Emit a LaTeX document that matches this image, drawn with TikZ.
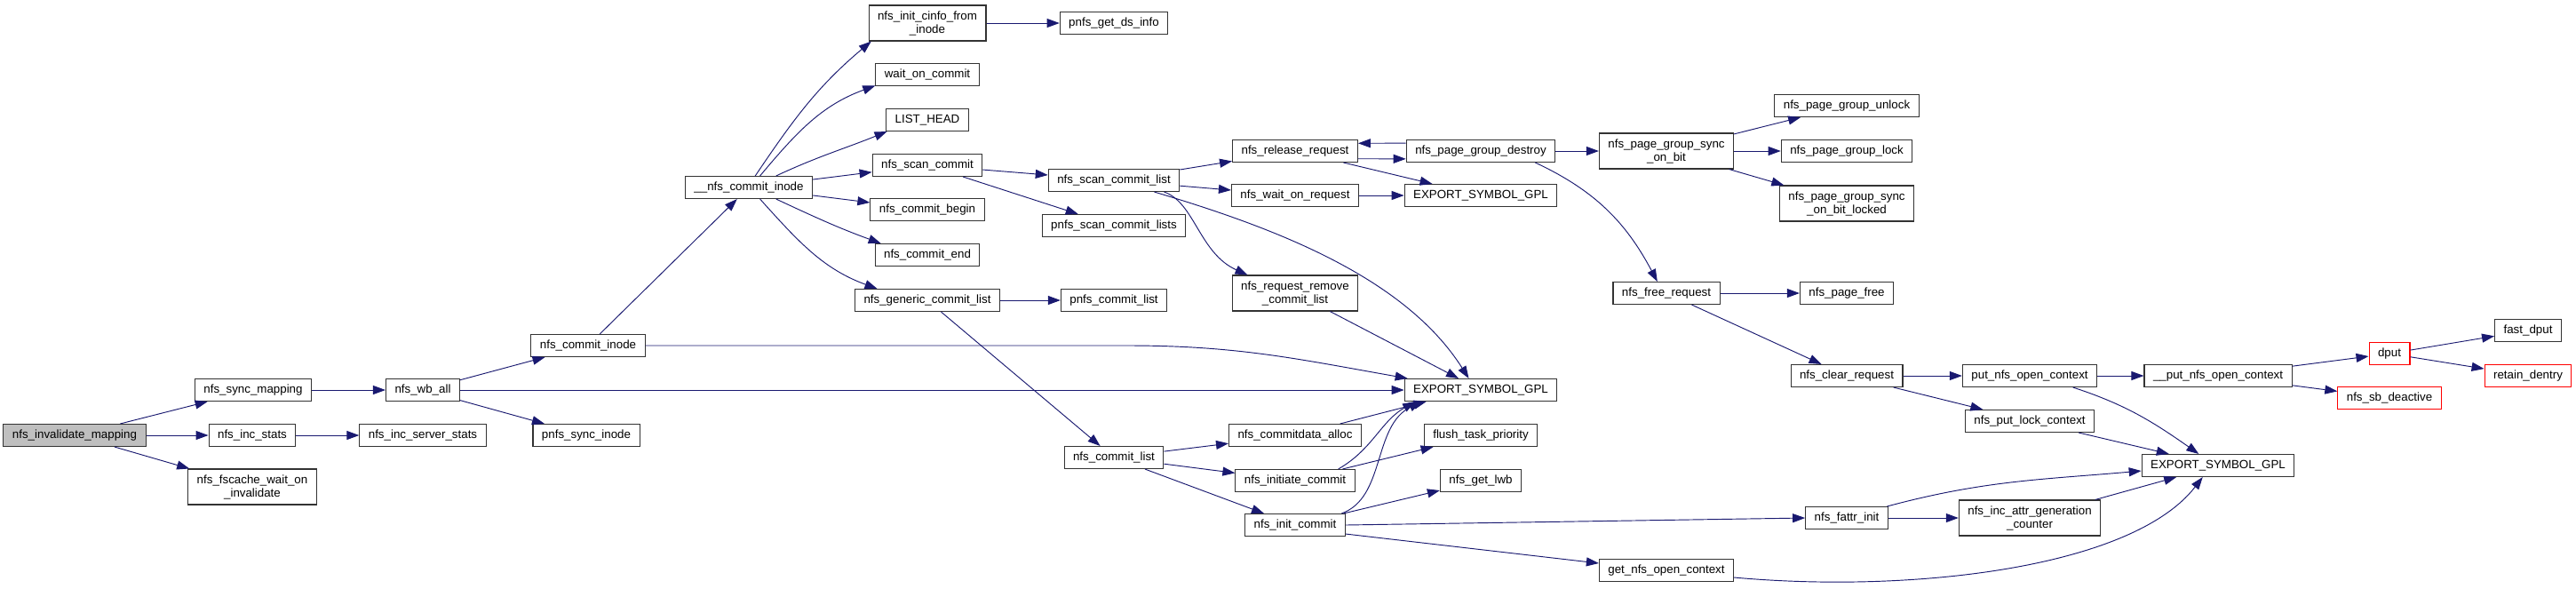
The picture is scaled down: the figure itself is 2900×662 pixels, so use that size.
\documentclass[tikz,border=0pt]{standalone}
\usepackage{fontspec}
\setmainfont{Liberation Sans}
\usepackage{tikz}
\usetikzlibrary{arrows.meta, positioning}

\definecolor{edgeblue}{HTML}{191970}
\tikzset{
  fn/.style={draw=black!80, fill=white, line width=0.8pt, font=\fontsize{10}{11.25}\selectfont,
             inner xsep=7.5pt, inner ysep=2pt, minimum height=18.75pt, align=center},
  fntwo/.style={fn, minimum height=30pt},
  fnroot/.style={fn, fill=black!25},
  fnmiss/.style={fn, draw=red},
  call/.style={edgeblue, line width=0.7pt, -{Triangle[length=10.5pt, width=7.5pt]}},
}

\begin{document}
\begin{tikzpicture}[x=0.75pt, y=-0.75pt]
        % Marco (pixeles de la imagen original, y hacia abajo)
        \useasboundingbox[fill=white] (0,0) rectangle (2900,662);

        % Columna 1-3
        \node[fnroot] (invmap) at (84,490) {nfs\_invalidate\_mapping};
        \node[fn] (syncmap) at (285,439) {nfs\_sync\_mapping};
        \node[fn] (incstats) at (284,490) {nfs\_inc\_stats};
        \node[fntwo] (fscache) at (284,548) {nfs\_fscache\_wait\_on\\\_invalidate};
        \node[fn] (wball) at (476,439) {nfs\_wb\_all};
        \node[fn] (incsrv) at (476,490) {nfs\_inc\_server\_stats};

        % Columna 4-5
        \node[fn] (commitinode) at (662,389) {nfs\_commit\_inode};
        \node[fn] (pnfssync) at (660,490) {pnfs\_sync\_inode};
        \node[fn] (nci) at (843,211) {\_\_nfs\_commit\_inode};

        % Columna 6
        \node[fntwo] (initcinfo) at (1044,26) {nfs\_init\_cinfo\_from\\\_inode};
        \node[fn] (waitcommit) at (1044,84) {wait\_on\_commit};
        \node[fn] (listhead) at (1044,135) {LIST\_HEAD};
        \node[fn] (scancommit) at (1044,186) {nfs\_scan\_commit};
        \node[fn] (commitbegin) at (1044,236) {nfs\_commit\_begin};
        \node[fn] (commitend) at (1044,287) {nfs\_commit\_end};
        \node[fn] (gencommit) at (1044,338) {nfs\_generic\_commit\_list};

        % Columna 7
        \node[fn] (getds) at (1254,26) {pnfs\_get\_ds\_info};
        \node[fn] (scanlist) at (1254,203) {nfs\_scan\_commit\_list};
        \node[fn] (scanlists) at (1254,254) {pnfs\_scan\_commit\_lists};
        \node[fn] (pnfscommit) at (1254,338) {pnfs\_commit\_list};
        \node[fn] (commitlist) at (1254,515) {nfs\_commit\_list};

        % Columna 8
        \node[fn] (release) at (1458,170) {nfs\_release\_request};
        \node[fn] (waitreq) at (1458,220) {nfs\_wait\_on\_request};
        \node[fntwo] (removecl) at (1458,330) {nfs\_request\_remove\\\_commit\_list};
        \node[fn] (cdalloc) at (1458,490) {nfs\_commitdata\_alloc};
        \node[fn] (initiate) at (1458,541) {nfs\_initiate\_commit};
        \node[fn] (initcommit) at (1458,591) {nfs\_init\_commit};

        % Columna 9
        \node[fn] (pgdestroy) at (1667,170) {nfs\_page\_group\_destroy};
        \node[fn] (esgA) at (1667,220) {EXPORT\_SYMBOL\_GPL};
        \node[fn] (esgB) at (1667,439) {EXPORT\_SYMBOL\_GPL};
        \node[fn] (flush) at (1667,490) {flush\_task\_priority};
        \node[fn] (getlwb) at (1667,541) {nfs\_get\_lwb};

        % Columna 10-11
        \node[fntwo] (pgsync) at (1876,170) {nfs\_page\_group\_sync\\\_on\_bit};
        \node[fn] (freereq) at (1876,330) {nfs\_free\_request};
        \node[fn] (getctx) at (1876,642) {get\_nfs\_open\_context};
        \node[fn] (pgunlock) at (2079,119) {nfs\_page\_group\_unlock};
        \node[fn] (pglock) at (2079,170) {nfs\_page\_group\_lock};
        \node[fntwo] (pglocked) at (2079,229) {nfs\_page\_group\_sync\\\_on\_bit\_locked};
        \node[fn] (pagefree) at (2079,330) {nfs\_page\_free};
        \node[fn] (clearreq) at (2079,423) {nfs\_clear\_request};
        \node[fn] (fattr) at (2079,583) {nfs\_fattr\_init};

        % Columna 12-15
        \node[fn] (putctx) at (2285,423) {put\_nfs\_open\_context};
        \node[fn] (putlock) at (2285,474) {nfs\_put\_lock\_context};
        \node[fntwo] (incattr) at (2285,583) {nfs\_inc\_attr\_generation\\\_counter};
        \node[fn] (putctxB) at (2497,423) {\_\_put\_nfs\_open\_context};
        \node[fn] (esgC) at (2497,524) {EXPORT\_SYMBOL\_GPL};
        \node[fnmiss] (dput) at (2690,398) {dput};
        \node[fnmiss] (sbdeact) at (2690,448) {nfs\_sb\_deactive};
        \node[fn] (fastdput) at (2846,372) {fast\_dput};
        \node[fnmiss] (retain) at (2846,423) {retain\_dentry};

        % Llamadas: parte izquierda
        \draw[call] (invmap) -- (syncmap);
        \draw[call] (invmap) -- (incstats);
        \draw[call] (invmap) -- (fscache);
        \draw[call] (syncmap) -- (wball);
        \draw[call] (incstats) -- (incsrv);
        \draw[call] (wball) -- (commitinode);
        \draw[call] (wball) -- (esgB);
        \draw[call] (wball) -- (pnfssync);
        \draw[call] (commitinode) -- (nci);
        \draw[call] (commitinode.east) -- (1270,389) to[out=0, in=170] (esgB.171);

        % Llamadas de __nfs_commit_inode
        \draw[call] (nci.61) to[out=56, in=-140] (initcinfo.198);
        \draw[call] (nci.46) to[out=50, in=-160] (waitcommit.192);
        \draw[call] (nci.23) to[out=25, in=-158] (listhead.196);
        \draw[call] (nci) -- (scancommit);
        \draw[call] (nci) -- (commitbegin);
        \draw[call] (nci.-23) to[out=-25, in=160] (commitend.166);
        \draw[call] (nci.-46) to[out=-48, in=160] (gencommit.167);
        \draw[call] (initcinfo) -- (getds);
        \draw[call] (scancommit) -- (scanlist);
        \draw[call] (scancommit) -- (scanlists);
        \draw[call] (gencommit) -- (pnfscommit);
        \draw[call] (gencommit) -- (commitlist);

        % nfs_scan_commit_list
        \draw[call] (scanlist) -- (release);
        \draw[call] (scanlist) -- (waitreq);
        \draw[call] (scanlist.-13) .. controls (1345,228) and (1350,285) .. (removecl.159);
        \draw[call] (scanlist.-16) .. controls (1430,255) and (1580,310) .. (esgB.136);
        \draw[call] (release.-7) -- (pgdestroy.186);
        \draw[call] (pgdestroy.174) -- (release.7);
        \draw[call] (release) -- (esgA);
        \draw[call] (waitreq) -- (esgA);
        \draw[call] (removecl) -- (esgB);

        % nfs_commit_list
        \draw[call] (commitlist) -- (cdalloc);
        \draw[call] (commitlist) -- (initiate);
        \draw[call] (commitlist) -- (initcommit);
        \draw[call] (cdalloc) -- (esgB.192);
        \draw[call] (initiate.15) to[out=30, in=-150] (esgB.190);
        \draw[call] (initiate) -- (flush);
        \draw[call] (initcommit.14) .. controls (1560,560) and (1545,480) .. (esgB.191);
        \draw[call] (initcommit) -- (getlwb);
        \draw[call] (initcommit.east) -- (fattr.west);
        \draw[call] (initcommit.-10) -- (getctx.174);

        % nfs_page_group_destroy
        \draw[call] (pgdestroy) -- (pgsync);
        \draw[call] (pgdestroy.-12) to[out=-25, in=118] (freereq.128);
        \draw[call] (pgsync) -- (pgunlock);
        \draw[call] (pgsync) -- (pglock);
        \draw[call] (pgsync) -- (pglocked);
        \draw[call] (freereq) -- (pagefree);
        \draw[call] (freereq) -- (clearreq);

        % Contextos
        \draw[call] (clearreq) -- (putctx);
        \draw[call] (clearreq) -- (putlock);
        \draw[call] (putctx) -- (putctxB);
        \draw[call] (putctx.-15) to[out=-18, in=145] (esgC.149);
        \draw[call] (putlock) -- (esgC);
        \draw[call] (fattr) -- (incattr);
        \draw[call] (fattr.16) to[out=15, in=185] (esgC.184);
        \draw[call] (incattr) -- (esgC);
        \draw[call] (getctx.-6) .. controls (2150,668) and (2400,640) .. (esgC.217);
        \draw[call] (putctxB) -- (dput);
        \draw[call] (putctxB) -- (sbdeact);
        \draw[call] (dput) -- (fastdput);
        \draw[call] (dput) -- (retain);
\end{tikzpicture}
\end{document}
